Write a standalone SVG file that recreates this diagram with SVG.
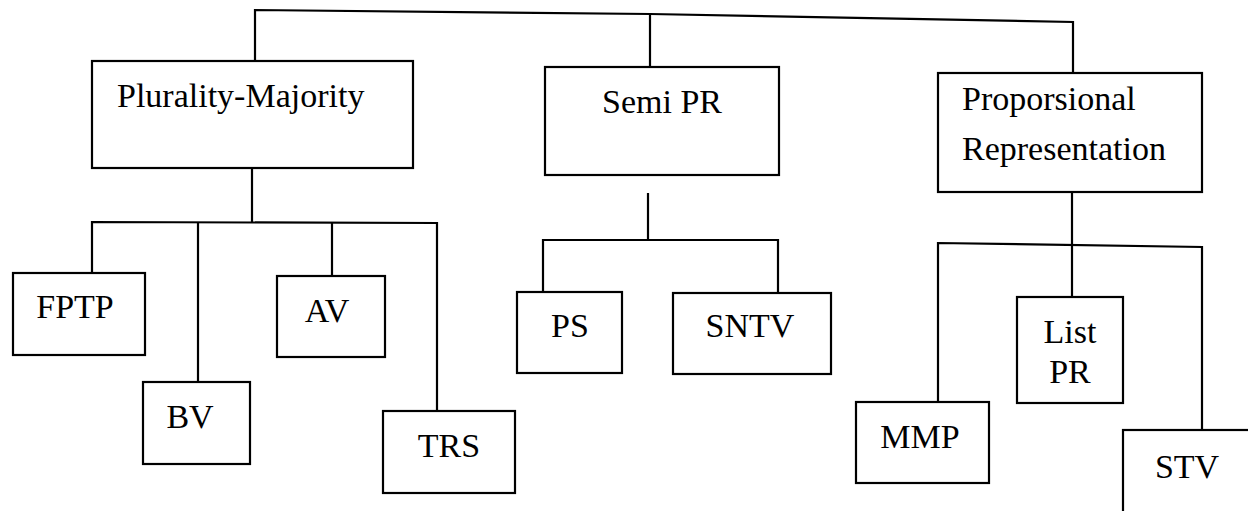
<svg xmlns="http://www.w3.org/2000/svg" width="1248" height="511" viewBox="0 0 1248 511">
<style>
.box{fill:#fff;stroke:#000;stroke-width:2.2}
.ln{fill:none;stroke:#000;stroke-width:2.2}
text{font-family:"Liberation Serif","Times New Roman",serif;font-size:34px;fill:#000}
.c{text-anchor:middle}
</style>
<rect width="1248" height="511" fill="#fff"/>
<g id="connectors">
<polyline class="ln" points="255,62 255,10 650,14 1073,22 1073,73"/>
<line class="ln" x1="650" y1="14" x2="650" y2="67"/>
<line class="ln" x1="252" y1="168" x2="252" y2="222"/>
<polyline class="ln" points="92,273 92,222 437,223 437,411"/>
<line class="ln" x1="198" y1="222" x2="198" y2="382"/>
<line class="ln" x1="332" y1="223" x2="332" y2="276"/>
<line class="ln" x1="648" y1="193" x2="648" y2="240"/>
<polyline class="ln" points="543,292 543,240 778,240 778,293"/>
<line class="ln" x1="1072" y1="192" x2="1072" y2="297"/>
<polyline class="ln" points="938,402 938,243 1202,247 1202,430"/>
</g>
<g id="plurality">
<rect class="box" x="92" y="61" width="321" height="107"/>
<text x="117" y="107">Plurality-Majority</text>
</g>
<g id="semipr">
<rect class="box" x="545" y="67" width="234" height="108"/>
<text class="c" x="662" y="113">Semi PR</text>
</g>
<g id="pr">
<rect class="box" x="938" y="73" width="264" height="119"/>
<text x="962" y="110">Proporsional</text>
<text x="962" y="160">Representation</text>
</g>
<g id="fptp">
<rect class="box" x="13" y="273" width="132" height="82"/>
<text class="c" x="75" y="318">FPTP</text>
</g>
<g id="bv">
<rect class="box" x="143" y="382" width="107" height="82"/>
<text class="c" x="190" y="428">BV</text>
</g>
<g id="av">
<rect class="box" x="277" y="276" width="108" height="81"/>
<text class="c" x="327" y="322">AV</text>
</g>
<g id="trs">
<rect class="box" x="383" y="411" width="132" height="82"/>
<text class="c" x="449" y="457">TRS</text>
</g>
<g id="ps">
<rect class="box" x="517" y="292" width="105" height="81"/>
<text class="c" x="570" y="337">PS</text>
</g>
<g id="sntv">
<rect class="box" x="673" y="293" width="158" height="81"/>
<text class="c" x="750" y="337">SNTV</text>
</g>
<g id="mmp">
<rect class="box" x="856" y="402" width="133" height="81"/>
<text class="c" x="920" y="448">MMP</text>
</g>
<g id="listpr">
<rect class="box" x="1017" y="297" width="106" height="106"/>
<text class="c" x="1070" y="343">List</text>
<text class="c" x="1070" y="383">PR</text>
</g>
<g id="stv">
<rect class="box" x="1123" y="430" width="140" height="100"/>
<text class="c" x="1187" y="478">STV</text>
</g>
</svg>
